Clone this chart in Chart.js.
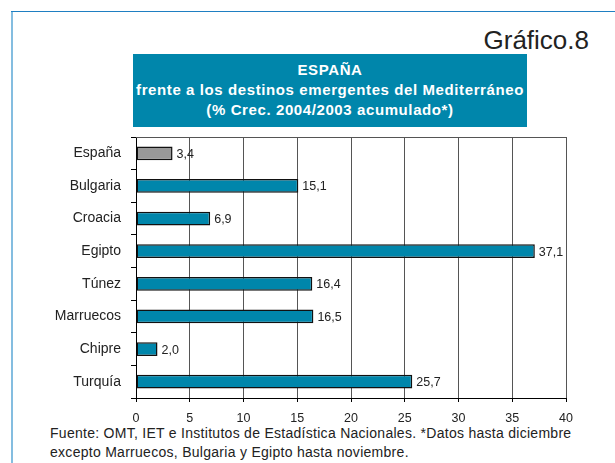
<!DOCTYPE html>
<html>
<head>
<meta charset="utf-8">
<script src="https://cdn.jsdelivr.net/npm/chart.js@4"></script>
<style>
  html,body{margin:0;padding:0;background:#fff;}
  body{width:615px;height:463px;position:relative;overflow:hidden;font-family:"Liberation Sans",Arial,Helvetica,sans-serif;}
  #frameTop{position:absolute;left:11px;top:11px;width:604px;height:0;border-top:1.5px solid #1f7fc2;}
  #frameLeft{position:absolute;left:11px;top:12px;width:0;height:451px;border-left:2px solid #84bde0;}
  #num{position:absolute;right:26px;top:25px;font-size:26px;color:#222;line-height:30px;}
  #head{position:absolute;left:133px;top:54px;width:394px;height:73px;background:#0086ab;color:#fff;
        font-weight:bold;font-size:15px;letter-spacing:0.6px;line-height:20px;text-align:center;padding-top:6px;box-sizing:border-box;white-space:nowrap;}
  #foot{position:absolute;left:50px;top:424px;font-size:14px;letter-spacing:0.28px;line-height:19px;color:#222;white-space:nowrap;}
  canvas{position:absolute;left:0;top:0;}
</style>
</head>
<body>
<div id="frameTop"></div>
<div id="frameLeft"></div>
<div id="num">Gráfico.8</div>
<div id="head">ESPAÑA<br>frente a los destinos emergentes del Mediterráneo<br>(% Crec. 2004/2003 acumulado*)</div>
<div id="foot">Fuente: OMT, IET e Institutos de Estadística Nacionales. *Datos hasta diciembre<br>excepto Marruecos, Bulgaria y Egipto hasta noviembre.</div>
<canvas id="chart" width="615" height="463"></canvas>
<script>
// data
const countries = ['España','Bulgaria','Croacia','Egipto','Túnez','Marruecos','Chipre','Turquía'];
const growth = [3.4, 15.1, 6.9, 37.1, 16.4, 16.5, 2.0, 25.7];
const xTicks = [0,5,10,15,20,25,30,35,40];

const FONT = '"Liberation Sans", Arial, Helvetica, sans-serif';
const teal = '#0086ab', grey = '#999999';

// value labels + top border
const extras = {
  id:'extras',
  afterDatasetsDraw(chart){
    const {ctx, chartArea:a} = chart;
    ctx.save();
    ctx.strokeStyle = '#555'; ctx.lineWidth = 1;
    ctx.beginPath(); ctx.moveTo(a.left, a.top+0.5); ctx.lineTo(a.right, a.top+0.5); ctx.stroke();
    ctx.font = '12.5px '+FONT; ctx.fillStyle = '#222';
    ctx.textAlign = 'left'; ctx.textBaseline = 'middle';
    chart.getDatasetMeta(0).data.forEach((bar,i)=>{
      ctx.fillText(growth[i].toFixed(1).replace('.',','), bar.x+4, bar.y+1);
    });
    ctx.restore();
  }
};

new Chart(document.getElementById('chart'),{
  type:'bar',
  data:{
    labels: countries,
    datasets:[{
      data: growth,
      backgroundColor: countries.map((c,i)=> i===0 ? grey : teal),
      borderColor:'#111', borderWidth:1.5, borderSkipped:false,
      barPercentage:0.42, categoryPercentage:1
    }]
  },
  options:{
    indexAxis:'y',
    responsive:false, animation:false,
    layout:{ padding:{ left:0, right:49, top:137, bottom:40 } },
    plugins:{ legend:{display:false}, tooltip:{enabled:false} },
    scales:{
      x:{
        min:0, max:40,
        afterBuildTicks(s){ s.ticks = xTicks.map(v=>({value:v})); },
        afterFit(s){ s.height = 25; },
        grid:{ color:'#555', lineWidth:1, tickColor:'#000', tickLength:4 },
        border:{ color:'#000', width:1 },
        ticks:{ color:'#222', font:{family:FONT, size:12.5}, padding:9, maxRotation:0 }
      },
      y:{
        afterFit(s){ s.width = 136; },
        grid:{ drawOnChartArea:false, color:'#000', tickLength:5 },
        border:{ color:'#000', width:1 },
        ticks:{ color:'#222', font:{family:FONT, size:14}, padding:10 }
      }
    }
  },
  plugins:[extras]
});
</script>
</body>
</html>
